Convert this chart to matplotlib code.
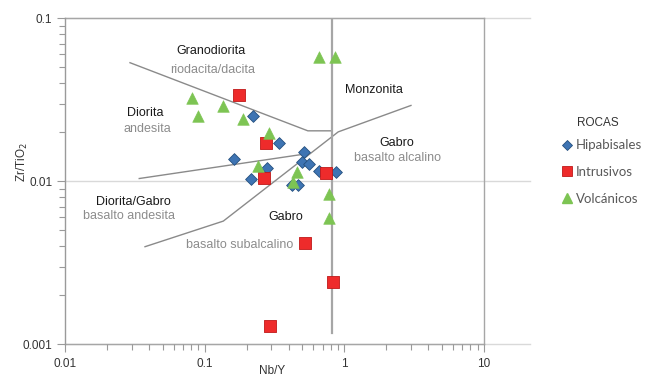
import matplotlib
matplotlib.use("Agg")
import matplotlib.pyplot as plt
from matplotlib.lines import Line2D

# ---------------- data ----------------
hip_x = [0.223, 0.339, 0.161, 0.512, 0.494, 0.561, 0.281, 0.214, 0.660, 0.867, 0.420, 0.466]
hip_y = [0.0253, 0.0171, 0.01376, 0.01513, 0.01313, 0.01277, 0.01207, 0.01028, 0.01156, 0.01135, 0.00945, 0.00945]

int_x = [0.175, 0.275, 0.266, 0.738, 0.523, 0.833, 0.293]
int_y = [0.0337, 0.01725, 0.01043, 0.01119, 0.00417, 0.00242, 0.0013]

vol_x = [0.658, 0.852, 0.0815, 0.1346, 0.090, 0.189, 0.287, 0.241, 0.460, 0.427, 0.780, 0.780]
vol_y = [0.0581, 0.0581, 0.0323, 0.0290, 0.0252, 0.0240, 0.0197, 0.01241, 0.01145, 0.00994, 0.00836, 0.00598]

# field boundaries (Nb/Y, Zr/TiO2)
b1_x = [0.0292, 0.548, 0.81]
b1_y = [0.0534, 0.0204, 0.0204]
b2_x = [0.034, 0.522]
b2_y = [0.0104, 0.0147]
b3_x = [0.0374, 0.136, 0.904, 3.0]
b3_y = [0.00397, 0.0057, 0.0201, 0.0292]
b4_x = [0.81, 0.81]
b4_y = [0.1, 0.00117]

x_ticks = [0.01, 0.1, 1, 10]
x_ticklabels = ["0.01", "0.1", "1", "10"]
y_ticks = [0.001, 0.01, 0.1]
y_ticklabels = ["0.001", "0.01", "0.1"]

series_names = ["Hipabisales", "Intrusivos", "Volcánicos"]
legend_title = "ROCAS"

# ---------------- plot ----------------
plt.rcParams['font.family'] = ['Liberation Sans', 'DejaVu Sans']
W, H = 656, 378
fig = plt.figure(figsize=(W / 100, H / 100), dpi=100)
ax = fig.add_axes([65 / W, 1 - 344.3 / H, (484 - 65) / W, (344.3 - 18.3) / H])
ax.set_xscale("log")
ax.set_yscale("log")
ax.set_xlim(0.01, 10)
ax.set_ylim(0.001, 0.1)

for s in ax.spines.values():
    s.set_visible(False)
ax.spines['left'].set_visible(True)
ax.spines['left'].set_color("#9a9a9a")
ax.spines['left'].set_linewidth(1.0)

# grid lines extending past the diagram
for yv in y_ticks:
    ax.plot([0, 1.11], [yv, yv], transform=ax.get_yaxis_transform(),
            color="#d9d9d9", lw=1.0, clip_on=False, zorder=0)
# diagram frame
ax.plot([0, 1], [0.1, 0.1], transform=ax.get_yaxis_transform(), color="#a6a6a6", lw=1.0, clip_on=False, zorder=1)
ax.plot([0, 1], [0.001, 0.001], transform=ax.get_yaxis_transform(), color="#a6a6a6", lw=1.0, clip_on=False, zorder=1)
ax.plot([10, 10], [0, 1], transform=ax.get_xaxis_transform(), color="#a6a6a6", lw=1.0, clip_on=False, zorder=1)

ax.set_xticks(x_ticks)
ax.set_xticklabels(x_ticklabels)
ax.set_yticks(y_ticks)
ax.set_yticklabels(y_ticklabels)
ax.tick_params(axis="both", which="major", direction="out", length=6, width=0.8,
               color="#9a9a9a", labelsize=8.5, labelcolor="#333333")
ax.tick_params(axis="both", which="minor", direction="out", length=4, width=0.8, color="#9a9a9a")
ax.tick_params(axis="x", pad=4)
ax.tick_params(axis="y", pad=3)

# boundaries
bc = "#8a8a8a"
ax.plot(b1_x, b1_y, color=bc, lw=1.0, zorder=2)
ax.plot(b2_x, b2_y, color=bc, lw=1.0, zorder=2)
ax.plot(b3_x, b3_y, color=bc, lw=1.0, zorder=2)
ax.plot(b4_x, b4_y, color="#a6a6a6", lw=1.6, zorder=2)

# field labels
def lab(px, py, s, dark=True):
    fig.text(px / W, 1 - py / H, s, ha="center", va="center", fontsize=9,
             color="#1a1a1a" if dark else "#8c8c8c")

lab(211, 51, "Granodiorita")
lab(213, 70, "riodacita/dacita", False)
lab(145, 113, "Diorita")
lab(147, 129, "andesita", False)
lab(374, 90, "Monzonita")
lab(397, 143, "Gabro")
lab(397, 158, "basalto alcalino", False)
lab(133, 202, "Diorita/Gabro")
lab(129, 216, "basalto andesita", False)
lab(286, 217, "Gabro")
lab(240, 245, "basalto subalcalino", False)

# data
ax.scatter(hip_x, hip_y, marker="D", s=36, facecolor="#3e74b3", edgecolor="#25507f", linewidth=0.6, zorder=4)
ax.scatter(int_x, int_y, marker="s", s=70, facecolor="#ee2b2b", edgecolor="#c01818", linewidth=0.6, zorder=4)
ax.scatter(vol_x, vol_y, marker="^", s=70, facecolor="#7dc453", edgecolor="#7dc453", linewidth=0.4, zorder=4)

# axis labels
fig.text(272 / W, 1 - 371 / H, "Nb/Y", ha="center", va="center", fontsize=8.5, color="#333333")
fig.text(22 / W, 1 - 162 / H, "Zr/TiO$_2$", ha="center", va="center", rotation=90, fontsize=8.5, color="#333333")

# legend
fig.text(598 / W, 1 - 123 / H, legend_title, ha="center", va="center", fontsize=8.5, color="#333333")
handles = [
    Line2D([], [], marker="D", ls="", markersize=5, markerfacecolor="#3e74b3", markeredgecolor="#25507f", markeredgewidth=0.6),
    Line2D([], [], marker="s", ls="", markersize=7, markerfacecolor="#ee2b2b", markeredgecolor="#c01818", markeredgewidth=0.6),
    Line2D([], [], marker="^", ls="", markersize=7, markerfacecolor="#7dc453", markeredgecolor="#7dc453"),
]
leg = fig.legend(handles, series_names, loc="upper left",
                 bbox_to_anchor=(552 / W, 1 - 130 / H), frameon=False,
                 prop={"family": ["Lato", "DejaVu Sans"], "size": 9.5},
                 handlelength=0.8, handletextpad=0.3, labelspacing=1.12,
                 borderpad=0.2)
for t in leg.get_texts():
    t.set_color("#595959")

fig.savefig("out.png", dpi=100)
